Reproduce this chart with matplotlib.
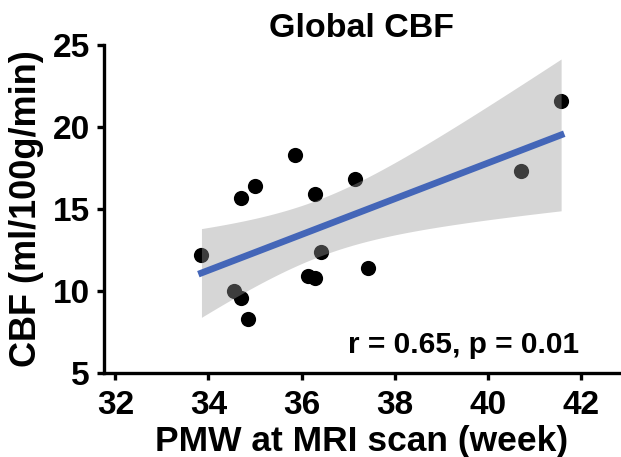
import numpy as np
import matplotlib
matplotlib.use('Agg')
import matplotlib.pyplot as plt

plt.rcParams['font.family'] = ['Liberation Sans', 'DejaVu Sans']
plt.rcParams['font.weight'] = 'bold'

# postmenstrual week at scan vs global CBF
pmw = [33.85, 34.70, 34.99, 34.56, 34.70, 34.85, 35.85, 36.29,
       37.14, 36.42, 36.13, 36.29, 37.43, 40.71, 41.58]
cbf = [12.2, 15.7, 16.4, 10.0, 9.6, 8.3, 18.3, 15.9,
       16.8, 12.4, 10.9, 10.8, 11.4, 17.3, 21.6]
stat_text = 'r = 0.65, p = 0.01'
x_ticks = [32, 34, 36, 38, 40, 42]
y_ticks = [5, 10, 15, 20, 25]

x = np.array(pmw)
y = np.array(cbf)
n = len(x)
slope, icpt = np.polyfit(x, y, 1)
xs = np.linspace(x.min(), x.max(), 100)
fit = icpt + slope * xs
resid = y - (icpt + slope * x)
s = np.sqrt(np.sum(resid ** 2) / (n - 2))
t_crit = 2.160  # t(0.975, df=13)
se = s * np.sqrt(1 / n + (xs - x.mean()) ** 2 / np.sum((x - x.mean()) ** 2))

fig = plt.figure(figsize=(6.21, 4.57), dpi=100)
ax = fig.add_axes([0.1667, 0.1838, 0.8313, 0.7177])

ax.scatter(x, y, s=120, color='black', linewidths=0, zorder=1)
ax.fill_between(xs, fit - t_crit * se, fit + t_crit * se,
                color='#999999', alpha=0.4, linewidth=0, zorder=2)
ax.plot(xs, fit, color='#4466b8', linewidth=4.8, zorder=3)

ax.set_xlim(31.745, 42.84)
ax.set_ylim(5, 25)
ax.set_xticks(x_ticks)
ax.set_yticks(y_ticks)
for side in ['top', 'right']:
    ax.spines[side].set_visible(False)
for side in ['left', 'bottom']:
    ax.spines[side].set_linewidth(2.4)
ax.tick_params(width=2.4, length=5, labelsize=24)
ax.tick_params(axis='x', pad=7.5)
ax.tick_params(axis='y', pad=5)

ax.set_title('Global CBF', fontsize=24.5, fontweight='bold', pad=6)
ax.set_xlabel('PMW at MRI scan (week)', fontsize=25.5, fontweight='bold', labelpad=2.5)
ax.set_ylabel('CBF (ml/100g/min)', fontsize=26, fontweight='bold', labelpad=6)
ax.text(41.96, 6.2, stat_text, fontsize=21.5, fontweight='bold', ha='right', va='baseline')

fig.savefig('out.png', dpi=100)
